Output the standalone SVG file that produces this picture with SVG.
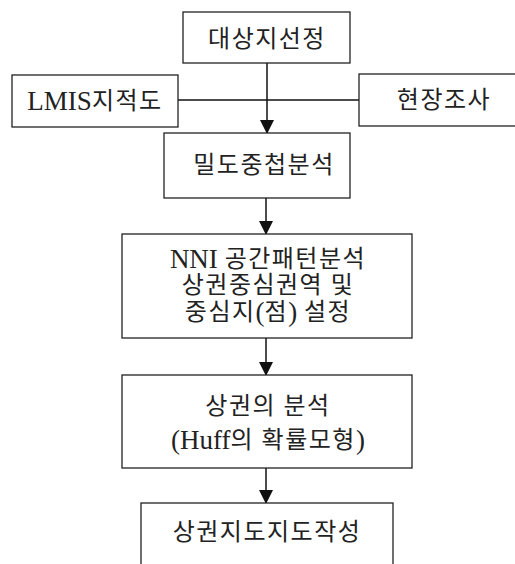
<svg xmlns="http://www.w3.org/2000/svg" width="515" height="564" viewBox="0 0 515 564">
<defs>
<style>
.box{fill:#fff;stroke:#222;stroke-width:1.3}
.t{font-family:"Liberation Serif","Noto Sans CJK KR",serif;font-size:24px;fill:#222;text-anchor:middle;dominant-baseline:central;letter-spacing:1.5px}
.l{font-size:27px;letter-spacing:0}
.c{stroke:#111;stroke-width:1.5;fill:none}
</style>
<marker id="ah" markerWidth="14" markerHeight="16" refX="13" refY="7" orient="auto" markerUnits="userSpaceOnUse">
<path d="M0,0 L14,7 L0,14 Z" fill="#111"/>
</marker>
</defs>
<rect width="515" height="564" fill="#fff"/>
<g id="connectors">
<line class="c" x1="178" y1="100" x2="359" y2="100"/>
<line class="c" x1="267" y1="63" x2="267" y2="133" marker-end="url(#ah)"/>
<line class="c" x1="266" y1="198" x2="266" y2="234" marker-end="url(#ah)"/>
<line class="c" x1="266" y1="338" x2="266" y2="375" marker-end="url(#ah)"/>
<line class="c" x1="266" y1="468" x2="266" y2="503" marker-end="url(#ah)"/>
</g>
<g id="n1"><rect class="box" x="183" y="12" width="167" height="51"/><text class="t" x="267" y="39">대상지선정</text></g>
<g id="n2"><rect class="box" x="12" y="75" width="166" height="52"/><text class="t" x="95" y="101"><tspan class="l">LMIS</tspan>지적도</text></g>
<g id="n3"><rect class="box" x="359" y="74" width="170" height="52"/><text class="t" x="444" y="100">현장조사</text></g>
<g id="n4"><rect class="box" x="164" y="133" width="186" height="65"/><text class="t" x="264" y="165">밀도중첩분석</text></g>
<g id="n5"><rect class="box" x="122" y="234" width="290" height="104"/>
<text class="t" x="268" y="259"><tspan class="l">NNI </tspan>공간패턴분석</text>
<text class="t" x="268" y="285">상권중심권역 및</text>
<text class="t" x="268" y="312">중심지<tspan class="l">(</tspan>점<tspan class="l">) </tspan>설정</text></g>
<g id="n6"><rect class="box" x="122" y="375" width="290" height="93"/>
<text class="t" x="268" y="406">상권의 분석</text>
<text class="t" x="268" y="440"><tspan class="l">(Huff</tspan>의 확률모형<tspan class="l">)</tspan></text></g>
<g id="n7"><rect class="box" x="141" y="503" width="252" height="80"/><text class="t" x="267" y="532">상권지도지도작성</text></g>
</svg>
